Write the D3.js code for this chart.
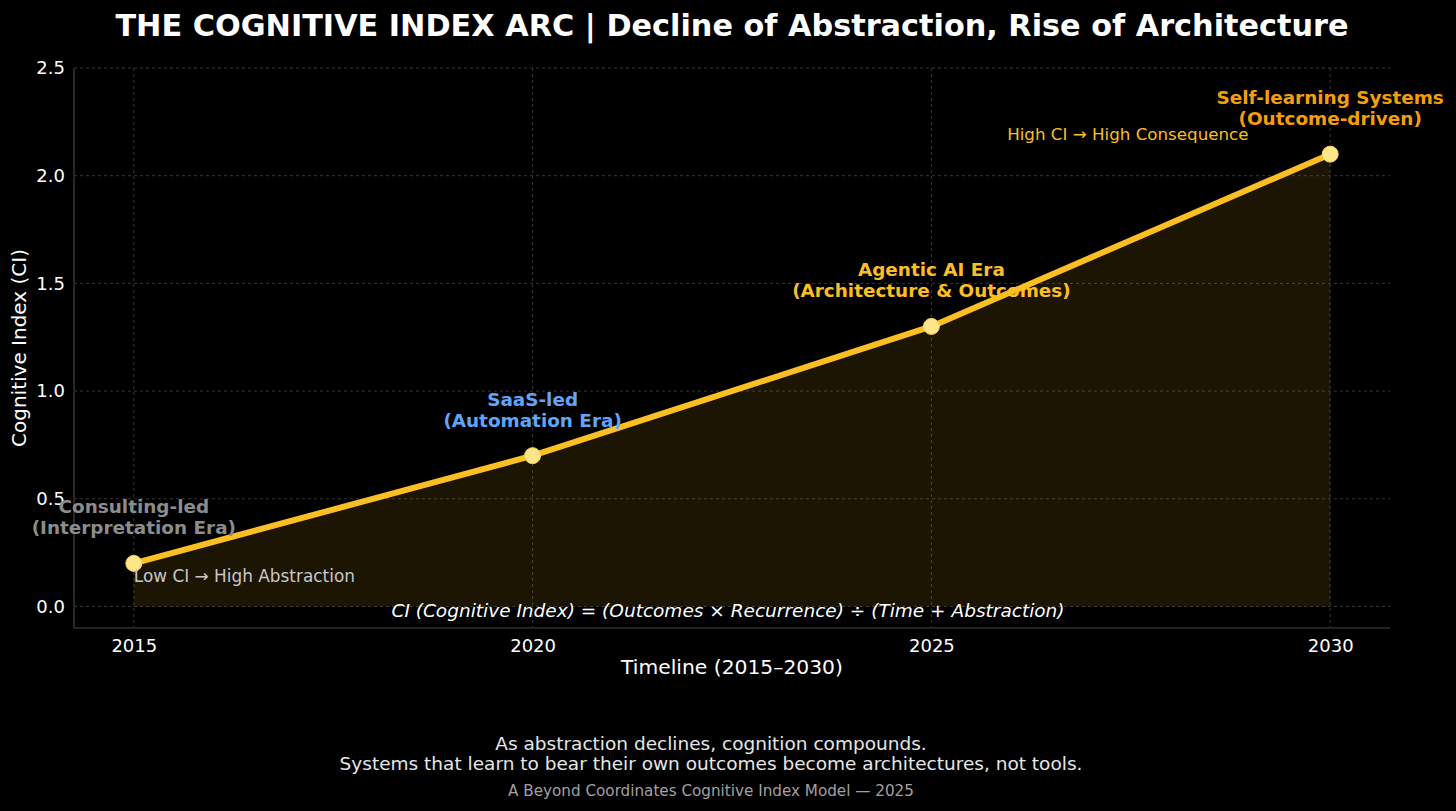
<!DOCTYPE html>
<html>
<head>
<meta charset="utf-8">
<script src="https://cdn.jsdelivr.net/npm/d3@7"></script>
<style>
  body { margin: 0; background: #000; }
  text { font-family: "DejaVu Sans", sans-serif; }
</style>
</head>
<body>
<div id="chart"></div>
<script>
// data
var years = [2015, 2020, 2025, 2030];
var ciValues = [0.2, 0.7, 1.3, 2.1];
var eraNames = ["Consulting-led", "SaaS-led", "Agentic AI Era", "Self-learning Systems"];
var eraSubs = ["(Interpretation Era)", "(Automation Era)", "(Architecture & Outcomes)", "(Outcome-driven)"];
var eraColors = ["#8c8c8c", "#60a5fa", "#fbbf24", "#f59e0b"];
var xTicks = [2015, 2020, 2025, 2030];
var yTicks = [0.0, 0.5, 1.0, 1.5, 2.0, 2.5];

var svgWidth = 1456;
var svgHeight = 811;

var margin = { top: 68, right: 66, bottom: 183, left: 74 };
var width = svgWidth - margin.left - margin.right;
var height = svgHeight - margin.top - margin.bottom;

var svg = d3.select("#chart")
  .append("svg")
  .attr("width", svgWidth)
  .attr("height", svgHeight)
  .style("background", "#000");

var g = svg.append("g")
  .attr("transform", `translate(${margin.left}, ${margin.top})`);

var x = d3.scaleLinear().domain([2014.25, 2030.75]).range([0, width]);
var y = d3.scaleLinear().domain([-0.1, 2.5]).range([height, 0]);

var data = years.map((yr, i) => ({ year: yr, ci: ciValues[i] }));

// grid
g.append("g")
  .selectAll("line")
  .data(yTicks)
  .join("line")
  .attr("x1", 0).attr("x2", width)
  .attr("y1", d => y(d)).attr("y2", d => y(d))
  .attr("stroke", "#444")
  .attr("stroke-width", 0.8)
  .attr("stroke-dasharray", "3,3");

g.append("g")
  .selectAll("line")
  .data(xTicks)
  .join("line")
  .attr("y1", 0).attr("y2", height)
  .attr("x1", d => x(d)).attr("x2", d => x(d))
  .attr("stroke", "#444")
  .attr("stroke-width", 0.8)
  .attr("stroke-dasharray", "3,3");

// area under the line
var area = d3.area()
  .x(d => x(d.year))
  .y0(y(0))
  .y1(d => y(d.ci));

g.append("path")
  .datum(data)
  .attr("d", area)
  .attr("fill", "#fbbf24")
  .attr("fill-opacity", 0.11);

// axes
var bottomAxis = d3.axisBottom(x).tickValues(xTicks).tickFormat(d3.format("d")).tickSize(5).tickPadding(6);
var leftAxis = d3.axisLeft(y).tickValues(yTicks).tickFormat(d3.format(".1f")).tickSize(5).tickPadding(4);

var xAxis = g.append("g")
  .attr("transform", `translate(0, ${height})`)
  .call(bottomAxis);

var yAxis = g.append("g")
  .call(leftAxis);

[xAxis, yAxis].forEach(function(ax) {
  ax.select(".domain").attr("stroke", "#444").attr("stroke-width", 1.2);
  ax.selectAll(".tick line").attr("stroke", "#000");
  ax.selectAll(".tick text")
    .attr("fill", "#fff")
    .style("font-size", "18px")
    .style("font-family", "DejaVu Sans");
});
xAxis.select(".domain").attr("d", `M0,0H${width}`);
yAxis.select(".domain").attr("d", `M0,0V${height}`);

// line
var line = d3.line()
  .x(d => x(d.year))
  .y(d => y(d.ci));

g.append("path")
  .datum(data)
  .attr("d", line)
  .attr("fill", "none")
  .attr("stroke", "#fbbf24")
  .attr("stroke-width", 6)
  .attr("stroke-linecap", "round")
  .attr("stroke-linejoin", "round");

g.selectAll("circle")
  .data(data)
  .join("circle")
  .attr("cx", d => x(d.year))
  .attr("cy", d => y(d.ci))
  .attr("r", 8)
  .attr("fill", "#fde68a")
  .attr("stroke", "#fbd35a")
  .attr("stroke-width", 1);

// era annotations
var eraLabels = g.append("g")
  .selectAll("text")
  .data(data)
  .join("text")
  .attr("text-anchor", "middle")
  .attr("fill", (d, i) => eraColors[i])
  .style("font-size", "18.4px")
  .style("font-weight", "bold");

eraLabels.append("tspan")
  .attr("x", d => x(d.year))
  .attr("y", d => y(d.ci) - 50)
  .text((d, i) => eraNames[i]);

eraLabels.append("tspan")
  .attr("x", d => x(d.year))
  .attr("y", d => y(d.ci) - 29)
  .text((d, i) => eraSubs[i]);

// side notes
g.append("text")
  .attr("x", x(2015))
  .attr("y", y(0.2) + 19)
  .attr("fill", "#c8c8c8")
  .style("font-size", "16.9px")
  .text("Low CI → High Abstraction");

g.append("text")
  .attr("x", x(2025.95))
  .attr("y", y(2.1) - 14)
  .attr("fill", "#fbbf24")
  .style("font-size", "16.7px")
  .text("High CI → High Consequence");

g.append("text")
  .attr("x", x(2022.45))
  .attr("y", y(-0.05))
  .attr("text-anchor", "middle")
  .attr("fill", "#fff")
  .style("font-size", "18.5px")
  .style("font-style", "italic")
  .text("CI (Cognitive Index) = (Outcomes × Recurrence) ÷ (Time + Abstraction)");

// axis labels
g.append("text")
  .attr("x", width / 2)
  .attr("y", height + 46)
  .attr("text-anchor", "middle")
  .attr("fill", "#fff")
  .style("font-size", "20.3px")
  .text("Timeline (2015–2030)");

g.append("text")
  .attr("transform", "rotate(-90)")
  .attr("x", -height / 2)
  .attr("y", -48)
  .attr("text-anchor", "middle")
  .attr("fill", "#fff")
  .style("font-size", "20px")
  .text("Cognitive Index (CI)");

// title
svg.append("text")
  .attr("x", 732)
  .attr("y", 36)
  .attr("text-anchor", "middle")
  .attr("fill", "#fff")
  .style("font-size", "30.3px")
  .style("font-weight", "bold")
  .text("THE COGNITIVE INDEX ARC | Decline of Abstraction, Rise of Architecture");

// footer
svg.append("text")
  .attr("x", 711)
  .attr("y", 750)
  .attr("text-anchor", "middle")
  .attr("fill", "#e6e6e6")
  .style("font-size", "18.5px")
  .text("As abstraction declines, cognition compounds.");

svg.append("text")
  .attr("x", 711)
  .attr("y", 770)
  .attr("text-anchor", "middle")
  .attr("fill", "#e6e6e6")
  .style("font-size", "18.5px")
  .text("Systems that learn to bear their own outcomes become architectures, not tools.");

svg.append("text")
  .attr("x", 711)
  .attr("y", 796)
  .attr("text-anchor", "middle")
  .attr("fill", "#a0a0a0")
  .style("font-size", "15.2px")
  .text("A Beyond Coordinates Cognitive Index Model — 2025");
</script>
</body>
</html>
